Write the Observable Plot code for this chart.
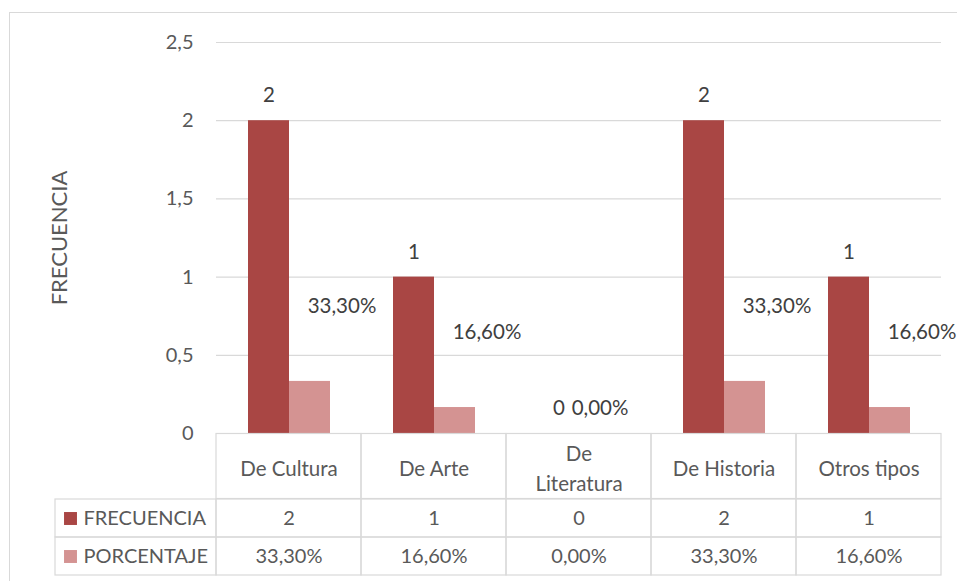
<!DOCTYPE html>
<html>
<head>
<meta charset="utf-8">
<script src="https://cdn.jsdelivr.net/npm/d3@7"></script>
<script src="https://cdn.jsdelivr.net/npm/@observablehq/plot@0.6"></script>
<style>
  html, body { margin: 0; padding: 0; background: #fff; }
  #wrap { position: relative; width: 957px; height: 581px; overflow: hidden; font-family: Lato, sans-serif; }
  #border { position: absolute; left: 9px; top: 12px; width: 980px; height: 600px; border: 1px solid #d9d9d9; box-sizing: border-box; }
  .layer { position: absolute; left: 0; }
  .layer svg { display: block; }
</style>
</head>
<body>
<div id="wrap">
  <div id="border"></div>
  <div class="layer" id="chart" style="top:0px"></div>
  <div class="layer" id="header" style="top:433px"></div>
  <div class="layer" id="table" style="top:498px"></div>
</div>
<script>
const categories = ["De Cultura", "De Arte", "De Literatura", "De Historia", "Otros tipos"];
const seriesNames = ["FRECUENCIA", "PORCENTAJE"];
const frecuencia = [2, 1, 0, 2, 1];
const porcentaje = [33.3, 16.6, 0, 33.3, 16.6];
const yTicks = [0, 0.5, 1, 1.5, 2, 2.5];
const yTitle = "FRECUENCIA";
const colors = ["#A94644", "#D49392"];

const fmtNum = d => String(d).replace(".", ",");
const fmtPct = v => v.toFixed(2).replace(".", ",") + "%";

// greedy word wrap of category labels by measured text width
const ctx = document.createElement("canvas").getContext("2d");
ctx.font = "20px Lato";
function wrapLabel(s, maxW = 112) {
  const words = s.split(" ");
  const lines = [];
  let cur = "";
  for (const w of words) {
    const test = cur ? cur + " " + w : w;
    if (cur && ctx.measureText(test).width > maxW) { lines.push(cur); cur = w; }
    else cur = test;
  }
  if (cur) lines.push(cur);
  return lines.join("\n");
}

const rows = categories.flatMap((c, i) => [
  {cat: c, series: seriesNames[0], value: frecuencia[i], label: fmtNum(frecuencia[i])},
  {cat: c, series: seriesNames[1], value: porcentaje[i] / 100, label: fmtPct(porcentaje[i])}
]);

const baseStyle = {fontFamily: "Lato, sans-serif", fontSize: "20px", color: "#595959", background: "transparent", overflow: "visible"};

const chart = Plot.plot({
  width: 957, height: 434,
  marginTop: 42, marginBottom: 1, marginLeft: 216, marginRight: 16,
  style: baseStyle,
  fx: {domain: categories, paddingInner: 0, paddingOuter: 0, axis: null, label: null},
  x: {domain: seriesNames, paddingInner: 0, paddingOuter: 0.74, axis: null, label: null},
  y: {domain: [0, 2.5], axis: null},
  color: {domain: seriesNames, range: colors},
  marks: [
    Plot.gridY(yTicks, {stroke: "#d9d9d9", strokeOpacity: 1, strokeWidth: 1.2}),
    Plot.axisY(yTicks, {tickSize: 0, tickPadding: 23, tickFormat: fmtNum, label: null, fill: "#595959", fontSize: 20}),
    Plot.barY(rows, {fx: "cat", x: "series", y: "value", fill: "series"}),
    Plot.text(rows.filter(d => d.series === seriesNames[0] || d.value === 0),
      {fx: "cat", x: "series", y: "value", text: "label", dy: -25, fill: "#404040", fontSize: 20.5}),
    Plot.text(rows.filter(d => d.series === seriesNames[1] && d.value > 0),
      {fx: "cat", x: "series", y: "value", text: "label", dx: 32, dy: -75, fill: "#404040", fontSize: 20.5}),
    Plot.text([yTitle], {fx: () => categories[0], frameAnchor: "left", textAnchor: "middle", dx: -157, rotate: -90, text: d => d, fill: "#595959", fontSize: 22})
  ]
});
document.getElementById("chart").appendChild(chart);

const header = Plot.plot({
  width: 957, height: 66,
  marginTop: 0.5, marginBottom: 0.5, marginLeft: 216, marginRight: 16,
  style: baseStyle,
  x: {domain: categories, padding: 0, axis: null},
  marks: [
    Plot.cell(categories, {x: d => d, fill: "none", stroke: "#d9d9d9", strokeWidth: 1.2}),
    Plot.text(categories, {x: d => d, text: d => wrapLabel(d), lineHeight: 1.45, fill: "#595959", fontSize: 20.5})
  ]
});
document.getElementById("header").appendChild(header);

const legendCells = seriesNames.map((s, i) => ({series: s, color: colors[i]}));

const table = Plot.plot({
  width: 957, height: 78,
  marginTop: 0.5, marginBottom: 0.5, marginLeft: 216, marginRight: 16,
  style: baseStyle,
  x: {domain: categories, padding: 0, axis: null},
  y: {domain: seriesNames, padding: 0, axis: null},
  marks: [
    Plot.cell(rows, {x: "cat", y: "series", fill: "none", stroke: "#d9d9d9", strokeWidth: 1.2}),
    Plot.cell(legendCells, {x: () => categories[0], y: "series", insetLeft: -161, insetRight: 145, fill: "none", stroke: "#d9d9d9", strokeWidth: 1.2}),
    Plot.text(rows, {x: "cat", y: "series", text: "label", fill: "#595959", fontSize: 20}),
    Plot.dot(legendCells, {y: "series", frameAnchor: "left", dx: -146, symbol: "square", r: 7.3, fill: "color", stroke: null}),
    Plot.text(legendCells, {y: "series", frameAnchor: "left", dx: -133, textAnchor: "start", text: "series", fill: "#595959", fontSize: 20})
  ]
});
document.getElementById("table").appendChild(table);
</script>
</body>
</html>
